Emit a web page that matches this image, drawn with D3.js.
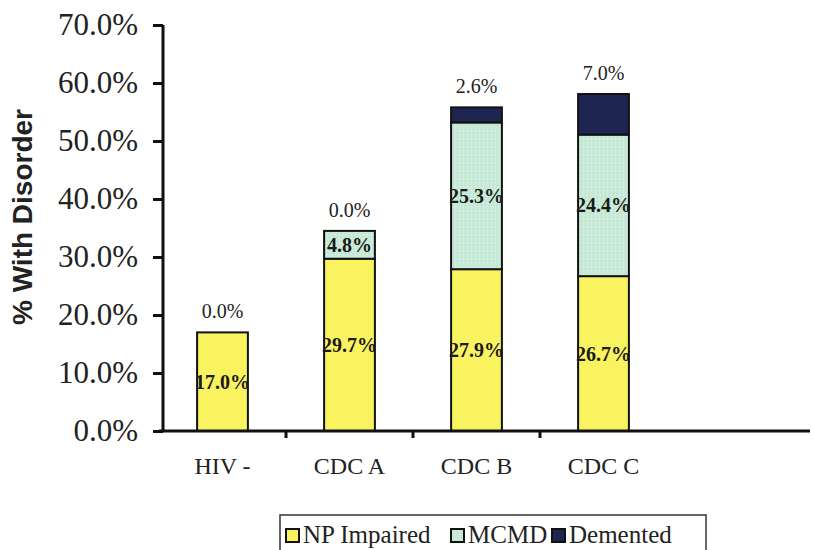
<!DOCTYPE html>
<html>
<head>
<meta charset="utf-8">
<script src="https://cdn.jsdelivr.net/npm/d3@7"></script>
<style>
  html, body { margin: 0; padding: 0; background: #fff; }
  svg { display: block; }
</style>
</head>
<body>
<svg id="chart" width="813" height="550"></svg>
<script>
const categories = ["HIV -", "CDC A", "CDC B", "CDC C"];
const seriesNames = ["NP Impaired", "MCMD", "Demented"];
const npImpaired = [17.0, 29.7, 27.9, 26.7];
const mcmd = [0.0, 4.8, 25.3, 24.4];
const demented = [0.0, 0.0, 2.6, 7.0];
const yTicks = [0, 10, 20, 30, 40, 50, 60, 70];
const colors = ["#f9f35f", "#c9ead8", "#1e2550"];

const svg = d3.select("#chart");
const serif = "'Liberation Serif', 'Times New Roman', serif";

const x = d3.scaleBand().domain(categories).range([159, 667]).paddingInner(0.6).paddingOuter(0.3);
const y = d3.scaleLinear().domain([0, 70]).range([431, 25]);

// texture pattern for MCMD
const defs = svg.append("defs");
const pat = defs.append("pattern").attr("id", "speck").attr("width", 4).attr("height", 4).attr("patternUnits", "userSpaceOnUse");
pat.append("rect").attr("width", 4).attr("height", 4).attr("fill", colors[1]);
pat.append("rect").attr("x", 1).attr("y", 1).attr("width", 1).attr("height", 1).attr("fill", "#b3d8c4");
pat.append("rect").attr("x", 3).attr("y", 2).attr("width", 1).attr("height", 1).attr("fill", "#dff4e8");

const rows = categories.map((c, i) => ({ cat: c, vals: [npImpaired[i], mcmd[i], demented[i]] }));
const stack = d3.stack().keys([0, 1, 2]).value((d, k) => d.vals[k]);
const stacked = stack(rows);

const fills = [colors[0], "url(#speck)", colors[2]];

stacked.forEach((layer, k) => {
  svg.append("g").selectAll("rect")
    .data(layer.filter(d => d.data.vals[k] > 0))
    .join("rect")
    .attr("x", d => x(d.data.cat))
    .attr("width", x.bandwidth())
    .attr("y", d => y(d[1]))
    .attr("height", d => y(d[0]) - y(d[1]))
    .attr("fill", fills[k])
    .attr("stroke", "#111")
    .attr("stroke-width", 2);
});

// inside labels for NP and MCMD
[0, 1].forEach(k => {
  svg.append("g").selectAll("text")
    .data(stacked[k].filter(d => d.data.vals[k] > 0))
    .join("text")
    .attr("x", d => x(d.data.cat) + x.bandwidth() / 2)
    .attr("y", d => (y(d[0]) + y(d[1])) / 2)
    .attr("dy", "0.35em")
    .attr("text-anchor", "middle")
    .attr("font-family", serif)
    .attr("font-weight", "bold")
    .attr("font-size", 20)
    .attr("fill", "#1a1a1a")
    .text(d => d.data.vals[k].toFixed(1) + "%");
});

// top labels for Demented
svg.append("g").selectAll("text")
  .data(stacked[2])
  .join("text")
  .attr("x", d => x(d.data.cat) + x.bandwidth() / 2)
  .attr("y", d => y(d[1]) - 14)
  .attr("text-anchor", "middle")
  .attr("font-family", serif)
  .attr("font-size", 20)
  .attr("fill", "#222")
  .text(d => d.data.vals[2].toFixed(1) + "%");

// y axis
const yAxis = svg.append("g")
  .attr("transform", "translate(163,0)")
  .call(d3.axisLeft(y).tickValues(yTicks).tickFormat(d => d.toFixed(1) + "%").tickSize(10).tickPadding(15));
yAxis.select(".domain").attr("stroke", "#111").attr("stroke-width", 3).attr("d", "M0,25V431");
yAxis.selectAll(".tick line").attr("stroke", "#111").attr("stroke-width", 3);
yAxis.selectAll(".tick text").attr("font-family", serif).attr("font-size", 31).attr("fill", "#222");

// x axis
svg.append("line").attr("x1", 159).attr("x2", 810).attr("y1", 431).attr("y2", 431)
  .attr("stroke", "#111").attr("stroke-width", 3);
const boundaries = categories.slice(1).map(c => x(c) - x.step() * x.paddingInner() / 2);
svg.append("g").selectAll("line").data(boundaries).join("line")
  .attr("x1", d => d).attr("x2", d => d).attr("y1", 431).attr("y2", 438)
  .attr("stroke", "#111").attr("stroke-width", 3);
svg.append("g").selectAll("text").data(categories).join("text")
  .attr("x", d => x(d) + x.bandwidth() / 2)
  .attr("y", 474)
  .attr("text-anchor", "middle")
  .attr("font-family", serif)
  .attr("font-size", 24)
  .attr("fill", "#222")
  .text(d => d);

// y title
svg.append("text")
  .attr("transform", "translate(32,217) rotate(-90)")
  .attr("text-anchor", "middle")
  .attr("font-family", "'Liberation Sans', Arial, sans-serif")
  .attr("font-weight", "bold")
  .attr("font-size", 28)
  .attr("fill", "#222")
  .text("% With Disorder");

// legend
const lg = svg.append("g");
lg.append("rect").attr("x", 280).attr("y", 515).attr("width", 426).attr("height", 40)
  .attr("fill", "#fff").attr("stroke", "#333").attr("stroke-width", 1.5);
const legX = [286, 451, 552];
seriesNames.forEach((n, i) => {
  lg.append("rect").attr("x", legX[i]).attr("y", 529).attr("width", 13).attr("height", 13)
    .attr("fill", fills[i]).attr("stroke", "#111").attr("stroke-width", 2);
  lg.append("text").attr("x", legX[i] + 17).attr("y", 543)
    .attr("font-family", serif).attr("font-size", 25).attr("fill", "#222").text(n);
});
</script>
</body>
</html>
